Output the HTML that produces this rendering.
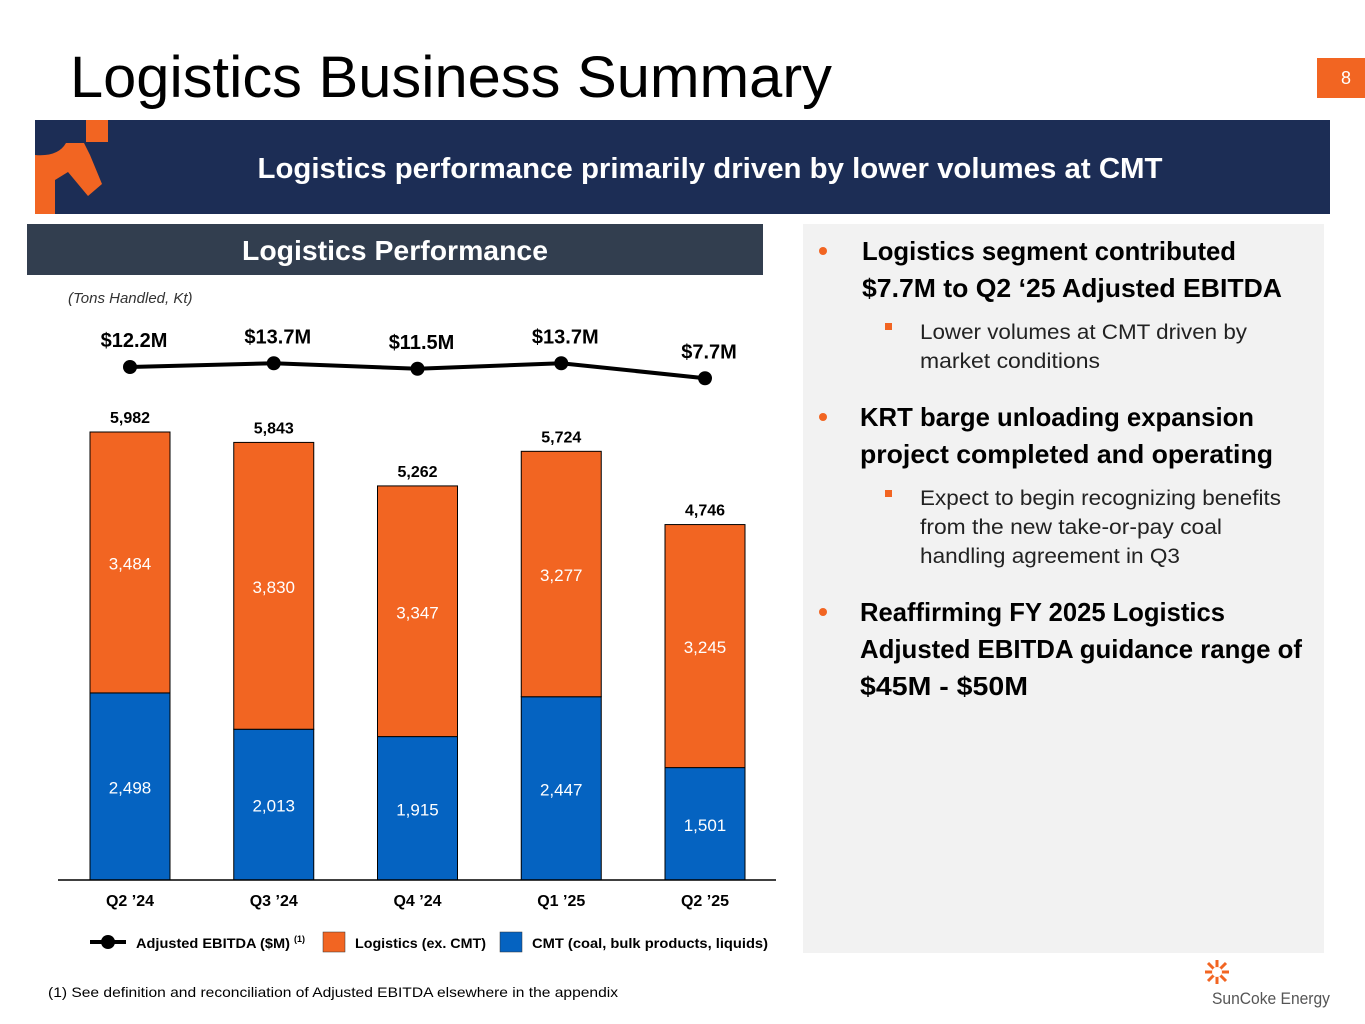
<!DOCTYPE html>
<html><head><meta charset="utf-8"><style>
html,body{margin:0;padding:0;background:#fff;}
svg{display:block;font-family:"Liberation Sans",sans-serif;}
</style></head><body>
<svg id="page" width="1365" height="1024" viewBox="0 0 1365 1024">
<text x="70" y="97" font-size="58" fill="#000" textLength="762" lengthAdjust="spacingAndGlyphs">Logistics Business Summary</text>
<rect x="1317" y="58" width="48" height="40" fill="#f26522"/>
<text x="1346" y="84" font-size="18" fill="#fff" text-anchor="middle">8</text>
<g>
<rect x="35" y="120" width="1295" height="94" fill="#1c2d55"/>
<rect x="86" y="120" width="22" height="22" fill="#f26522"/>
<path d="M35 155 Q58 157 66 143 L84 143 L90 155 L102 184 L88 196 L68 172 L55 180 L55 214 L35 214 Z" fill="#f26522"/>
<text x="710" y="178" font-size="29" font-weight="bold" fill="#fff" text-anchor="middle" textLength="905" lengthAdjust="spacingAndGlyphs">Logistics performance primarily driven by lower volumes at CMT</text>
</g>
<rect x="27" y="224" width="736" height="51" fill="#323e4f"/>
<text x="395" y="260" font-size="28" font-weight="bold" fill="#fff" text-anchor="middle" textLength="306" lengthAdjust="spacingAndGlyphs">Logistics Performance</text>
<text x="68" y="303" font-size="15" font-style="italic" fill="#333">(Tons Handled, Kt)</text>
<g id="chart"></g>
<g>
<line x1="90" y1="942" x2="126" y2="942" stroke="#000" stroke-width="4"/>
<circle cx="108" cy="942" r="7" fill="#000"/>
<text x="136" y="948" font-size="14" font-weight="bold" textLength="154" lengthAdjust="spacingAndGlyphs">Adjusted EBITDA ($M)</text>
<text x="294" y="942" font-size="9" font-weight="bold">(1)</text>
<rect x="323" y="932" width="22" height="20" fill="#f26522" stroke="#333" stroke-width="0.5"/>
<text x="355" y="948" font-size="14" font-weight="bold" textLength="131" lengthAdjust="spacingAndGlyphs">Logistics (ex. CMT)</text>
<rect x="500" y="932" width="22" height="20" fill="#0563c1" stroke="#333" stroke-width="0.5"/>
<text x="532" y="948" font-size="14" font-weight="bold" textLength="236" lengthAdjust="spacingAndGlyphs">CMT (coal, bulk products, liquids)</text>
</g>
<text x="48" y="997" font-size="14" fill="#000" textLength="570" lengthAdjust="spacingAndGlyphs">(1)  See definition and reconciliation of Adjusted EBITDA elsewhere in the appendix</text>
<g>
<rect x="803" y="224" width="521" height="729" fill="#f2f2f2"/>
<circle cx="823" cy="251" r="4" fill="#f26522"/>
<circle cx="823" cy="417" r="4" fill="#f26522"/>
<circle cx="823" cy="612" r="4" fill="#f26522"/>
<g font-size="26" font-weight="bold" fill="#000">
<text x="862" y="260" textLength="374" lengthAdjust="spacingAndGlyphs">Logistics segment contributed</text>
<text x="862" y="297" textLength="420" lengthAdjust="spacingAndGlyphs">$7.7M to Q2 ‘25 Adjusted EBITDA</text>
<text x="860" y="426" textLength="394" lengthAdjust="spacingAndGlyphs">KRT barge unloading expansion</text>
<text x="860" y="463" textLength="413" lengthAdjust="spacingAndGlyphs">project completed and operating</text>
<text x="860" y="621" textLength="365" lengthAdjust="spacingAndGlyphs">Reaffirming FY 2025 Logistics</text>
<text x="860" y="658" textLength="442" lengthAdjust="spacingAndGlyphs">Adjusted EBITDA guidance range of</text>
<text x="860" y="695" textLength="168" lengthAdjust="spacingAndGlyphs">$45M - $50M</text>
</g>
<g font-size="21" fill="#222">
<rect x="885" y="323" width="7" height="7" fill="#f26522"/>
<text x="920" y="339" textLength="327" lengthAdjust="spacingAndGlyphs">Lower volumes at CMT driven by</text>
<text x="920" y="368" textLength="180" lengthAdjust="spacingAndGlyphs">market conditions</text>
<rect x="885" y="490" width="7" height="7" fill="#f26522"/>
<text x="920" y="505" textLength="361" lengthAdjust="spacingAndGlyphs">Expect to begin recognizing benefits</text>
<text x="920" y="534" textLength="302" lengthAdjust="spacingAndGlyphs">from the new take-or-pay coal</text>
<text x="920" y="563" textLength="260" lengthAdjust="spacingAndGlyphs">handling agreement in Q3</text>
</g>
</g>
<g>
<g stroke="#f26522" stroke-width="3">
<line x1="1217" y1="960" x2="1217" y2="984"/><line x1="1205" y1="972" x2="1229" y2="972"/>
<line x1="1208" y1="963" x2="1226" y2="981"/><line x1="1226" y1="963" x2="1208" y2="981"/>
</g>
<circle cx="1217" cy="972" r="5" fill="#fff"/>
<text x="1212" y="1004" font-size="17" fill="#555" textLength="118" lengthAdjust="spacingAndGlyphs">SunCoke Energy</text>
</g>
</svg>
<script>
const categories = ["Q2 \u201924","Q3 \u201924","Q4 \u201924","Q1 \u201925","Q2 \u201925"];
const cmtValues = [2498,2013,1915,2447,1501];
const logisticsValues = [3484,3830,3347,3277,3245];
const ebitdaValues = [12.2,13.7,11.5,13.7,7.7];
const ebitdaLabels = ["$12.2M","$13.7M","$11.5M","$13.7M","$7.7M"];

const NS = "http://www.w3.org/2000/svg";
const chart = document.getElementById("chart");
const baseY = 880, pxPerUnit = 448/5982;
const x0 = 130, step = 143.75, barW = 80;
function xPos(i){ return x0 + i*step; }
function yVol(v){ return baseY - v*pxPerUnit; }
function yEb(v){ return 397.5 - 2.5*v; }
function mk(tag, attrs, txt){
  const e = document.createElementNS(NS, tag);
  for (const k in attrs) e.setAttribute(k, attrs[k]);
  if (txt !== undefined) e.textContent = txt;
  chart.appendChild(e);
  return e;
}
categories.forEach((c,i)=>{
  const cx = xPos(i);
  const cmtTop = yVol(cmtValues[i]);
  const total = cmtValues[i]+logisticsValues[i];
  const totTop = yVol(total);
  let r = mk("rect",{x:cx-barW/2,y:cmtTop,width:barW,height:baseY-cmtTop,fill:"#0563c1",stroke:"#000","stroke-width":1});
  
  
  r = mk("rect",{x:cx-barW/2,y:totTop,width:barW,height:cmtTop-totTop,fill:"#f26522",stroke:"#000","stroke-width":1});
  
  
  let t = mk("text",{x:cx,y:(cmtTop+baseY)/2+7,"font-size":17,fill:"#fff","text-anchor":"middle"},cmtValues[i].toLocaleString("en-US"));
  
  
  t = mk("text",{x:cx,y:(totTop+cmtTop)/2+7,"font-size":17,fill:"#fff","text-anchor":"middle"},logisticsValues[i].toLocaleString("en-US"));
  
  
  t = mk("text",{x:cx,y:totTop-9,"font-size":16,"font-weight":"bold","text-anchor":"middle"},total.toLocaleString("en-US"));
  
  
  t = mk("text",{x:cx,y:906,"font-size":16,"font-weight":"bold","text-anchor":"middle"},c);
  
  
});
const axis = mk("line",{x1:58,y1:baseY,x2:776,y2:baseY,stroke:"#000","stroke-width":1.5});


const pts = ebitdaValues.map((v,i)=>xPos(i)+","+yEb(v)).join(" ");
const pl = mk("polyline",{points:pts,fill:"none",stroke:"#000","stroke-width":4});


ebitdaValues.forEach((v,i)=>{
  const c = mk("circle",{cx:xPos(i),cy:yEb(v),r:7,fill:"#000"});
  
  
  const t = mk("text",{x:xPos(i)+4,y:yEb(v)-20,"font-size":20,"font-weight":"bold","text-anchor":"middle"},ebitdaLabels[i]);
  
  
});
</script>
</body></html>
